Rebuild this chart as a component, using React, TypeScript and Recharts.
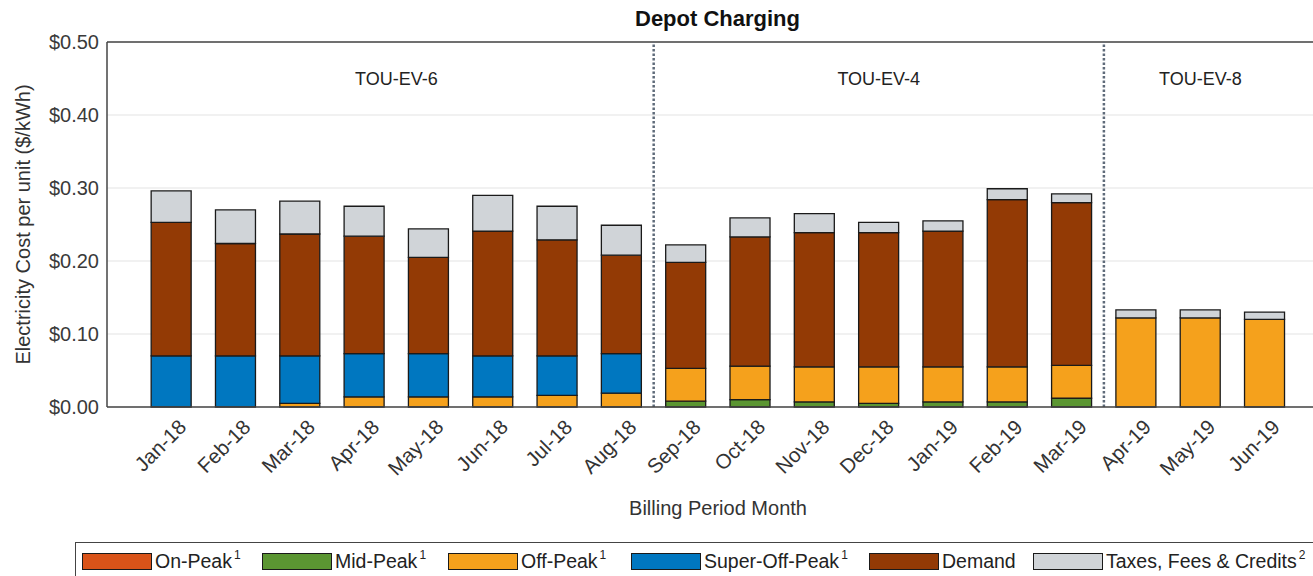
import { BarChart, Bar, XAxis, YAxis, CartesianGrid, ReferenceLine } from 'recharts'

const months = [
  'Jan-18', 'Feb-18', 'Mar-18', 'Apr-18', 'May-18', 'Jun-18', 'Jul-18', 'Aug-18', 'Sep-18',
  'Oct-18', 'Nov-18', 'Dec-18', 'Jan-19', 'Feb-19', 'Mar-19', 'Apr-19', 'May-19', 'Jun-19',
]

const onPeak = [0, 0, 0, 0, 0, 0, 0, 0, 0, 0, 0, 0, 0, 0, 0, 0, 0, 0]
const midPeak = [0, 0, 0, 0, 0, 0, 0, 0, 0.008, 0.01, 0.007, 0.005, 0.007, 0.007, 0.012, 0, 0, 0]
const offPeak = [0, 0, 0.005, 0.014, 0.014, 0.014, 0.016, 0.019, 0.045, 0.046, 0.048, 0.050, 0.048, 0.048, 0.045, 0.122, 0.122, 0.120]
const superOffPeak = [0.070, 0.070, 0.065, 0.059, 0.059, 0.056, 0.054, 0.054, 0, 0, 0, 0, 0, 0, 0, 0, 0, 0]
const demand = [0.183, 0.154, 0.167, 0.161, 0.132, 0.171, 0.159, 0.135, 0.145, 0.177, 0.184, 0.184, 0.186, 0.229, 0.223, 0, 0, 0]
const taxes = [0.043, 0.046, 0.045, 0.041, 0.039, 0.049, 0.046, 0.041, 0.024, 0.026, 0.026, 0.014, 0.014, 0.015, 0.012, 0.011, 0.011, 0.010]

const yTicks = [0, 0.1, 0.2, 0.3, 0.4, 0.5]

// tariff periods and where they change
const tariffs = [
  { name: 'TOU-EV-6', at: 4.5 },
  { name: 'TOU-EV-4', at: 12 },
  { name: 'TOU-EV-8', at: 17 },
]
const dividers = [8.5, 15.5]

const series = [
  { key: 'onPeak', name: 'On-Peak', sup: '1', color: '#D95319' },
  { key: 'midPeak', name: 'Mid-Peak', sup: '1', color: '#5B9632' },
  { key: 'offPeak', name: 'Off-Peak', sup: '1', color: '#F5A11C' },
  { key: 'superOffPeak', name: 'Super-Off-Peak', sup: '1', color: '#0077C0' },
  { key: 'demand', name: 'Demand', sup: '', color: '#933A05' },
  { key: 'taxes', name: 'Taxes, Fees & Credits', sup: '2', color: '#D0D4D8' },
]

const data = months.map((m, i) => ({
  idx: i + 1,
  month: m,
  onPeak: onPeak[i],
  midPeak: midPeak[i],
  offPeak: offPeak[i],
  superOffPeak: superOffPeak[i],
  demand: demand[i],
  taxes: taxes[i],
}))

const font = 'Liberation Sans, Arial, sans-serif'
const legendLeft = [82, 262, 448, 631, 869, 1033]

function MonthTick({ x, y, payload }: { x: number; y: number; payload: { value: number } }) {
  const label = months[payload.value - 1] ?? ''
  const px = x + 11
  const py = y + 8
  return (
    <text
      x={px}
      y={py}
      transform={`rotate(-45, ${px}, ${py})`}
      textAnchor="end"
      dominantBaseline="central"
      fontSize={20.5}
      fontFamily={font}
      fill="#333"
    >
      {label}
    </text>
  )
}

export default function App() {
  return (
    <div style={{ position: 'absolute', left: 0, top: 0, width: 1313, height: 576, overflow: 'hidden', background: '#fff' }}>
      <div style={{ position: 'absolute', left: 0, top: 6, width: '100%', textAlign: 'center', paddingLeft: 122, boxSizing: 'border-box', fontFamily: font, fontWeight: 'bold', fontSize: 22, color: '#111' }}>
        Depot Charging
      </div>
      <BarChart
        width={1340}
        height={576}
        data={data}
        margin={{ top: 42, right: 11, left: 0, bottom: 0 }}
        barSize={40}
        style={{ position: 'absolute', left: 0, top: 0 }}
      >
        <CartesianGrid vertical={false} stroke="#e3e3e3" strokeWidth={1.2} />
        <XAxis
          dataKey="idx"
          type="number"
          domain={[0, 19]}
          ticks={data.map(d => d.idx)}
          interval={0}
          height={169}
          stroke="#444"
          strokeWidth={1.5}
          tickLine={false}
          tick={MonthTick}
          label={{ value: 'Billing Period Month', position: 'insideTop', offset: 94, fontSize: 20, fontFamily: font, fill: '#333' }}
        />
        <YAxis
          domain={[0, 0.5]}
          ticks={yTicks}
          width={107}
          stroke="#444"
          strokeWidth={1.5}
          tickLine={false}
          tickFormatter={(v: number) => `$${v.toFixed(2)}`}
          tick={{ fontSize: 20, fontFamily: font, fill: '#3a3a3a' }}
          label={{ value: 'Electricity Cost per unit ($/kWh)', angle: -90, position: 'center', dx: -31, fontSize: 20, fontFamily: font, fill: '#333' }}
        />
        <ReferenceLine y={0.5} stroke="#444" strokeWidth={1.5} />
        {series.map(s => (
          <Bar
            key={s.key}
            dataKey={s.key}
            stackId="cost"
            fill={s.color}
            stroke="#1a1a1a"
            strokeWidth={1.3}
            isAnimationActive={false}
          />
        ))}
        {dividers.map(d => (
          <ReferenceLine key={d} x={d} stroke="#5f6b7a" strokeWidth={2.5} strokeDasharray="2.5 2" />
        ))}
        {tariffs.map(t => (
          <ReferenceLine
            key={t.name}
            x={t.at}
            stroke="none"
            label={{ value: t.name, position: 'insideTop', offset: 30, fontSize: 18, fontFamily: font, fill: '#222' }}
          />
        ))}
      </BarChart>
      <div style={{ position: 'absolute', left: 75, top: 542, width: 1300, height: 40, border: '1.5px solid #444', boxSizing: 'border-box' }} />
      {series.map((s, i) => (
        <div key={s.key} style={{ position: 'absolute', left: legendLeft[i], top: 550, display: 'flex', alignItems: 'center', fontFamily: font, fontSize: 19.5, color: '#222', whiteSpace: 'nowrap' }}>
          <span style={{ display: 'inline-block', width: 70, height: 17, background: s.color, border: '1.5px solid #1a1a1a', boxSizing: 'border-box', marginRight: 3 }} />
          <span>{s.name}</span>
          {s.sup && <span style={{ fontSize: 12, position: 'relative', top: -7, marginLeft: 2 }}>{s.sup}</span>}
        </div>
      ))}
    </div>
  )
}
